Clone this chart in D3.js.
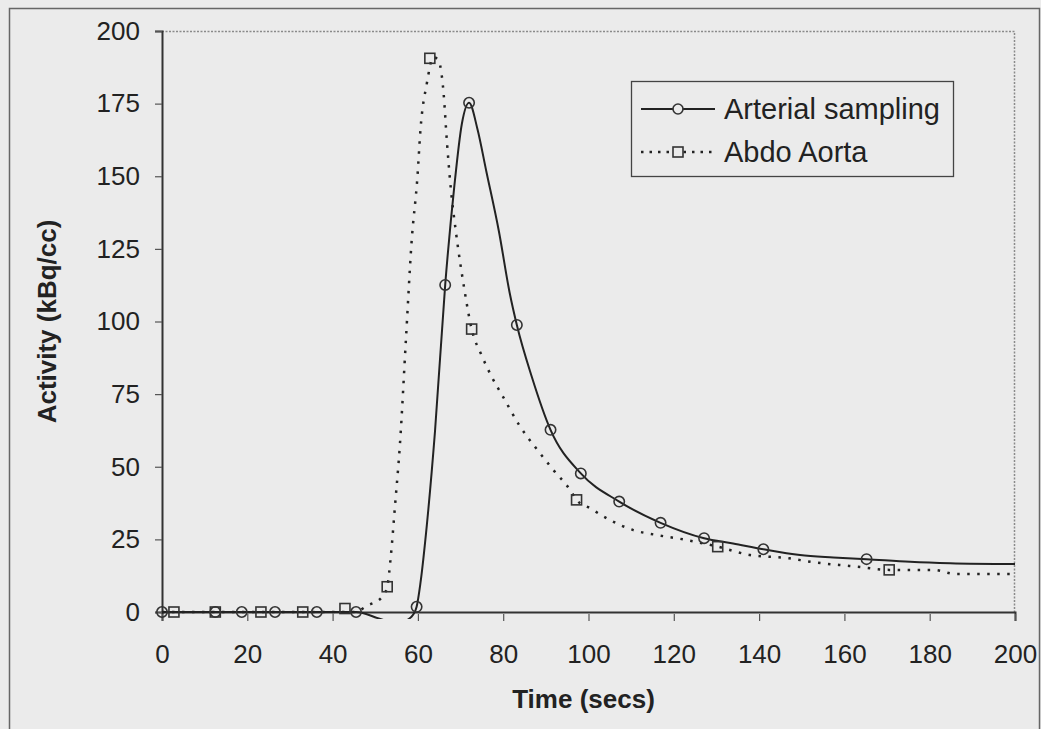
<!DOCTYPE html>
<html>
<head>
<meta charset="utf-8">
<script src="https://cdn.jsdelivr.net/npm/d3@7"></script>
<style>
  html, body { margin: 0; padding: 0; background: #ebebeb; }
  svg { display: block; font-family: "Liberation Sans", Arial, sans-serif; }
</style>
</head>
<body>
<script>
// sampled points (markers)
var arterialTime = [0, 12.5, 18.7, 26.5, 36.3, 45.5, 59.7, 66.4, 72.0, 83.2, 91.1, 98.2, 107.2, 116.9, 127.1, 141.0, 165.2];
var arterialAct  = [0, 0, 0, 0, 0, 0, 1.8, 112.6, 175.3, 98.8, 62.7, 47.7, 38.0, 30.7, 25.4, 21.6, 18.2];

var aortaTime = [2.8, 12.5, 23.2, 33.0, 42.9, 52.8, 62.8, 72.6, 97.2, 130.3, 170.5];
var aortaAct  = [0, 0, 0, 0, 1.2, 8.7, 190.6, 97.4, 38.6, 22.5, 14.5];

// smoothed curves
var arterialFitTime = [0, 40, 45.5, 51, 55, 58.5, 59.7, 60.6, 62.1, 64.0, 66.4, 68.5, 70.3, 72.0, 74.0, 76.0, 79.0, 81.5, 83.2, 86.7, 91.1, 98.2, 107.2, 116.9, 127.1, 133.9, 141.0, 149.6, 157.4, 165.2, 175.4, 184.8, 200];
var arterialFitAct  = [0, 0, 0, -2.3, -4, -1.6, 1.8, 10, 30, 62, 112.6, 146, 168, 175.3, 166, 152, 131, 110, 98.8, 81, 62.7, 47.7, 38.0, 30.7, 25.4, 23.6, 21.6, 19.6, 18.8, 18.2, 17.3, 16.8, 16.5];

var aortaFitTime = [0, 45, 48.4, 51.5, 52.8, 53.7, 54.6, 55.8, 57.2, 58.5, 59.9, 60.6, 62.1, 63.6, 64.8, 66.0, 66.8, 67.7, 68.9, 70.9, 72.6, 74.9, 77.3, 80.0, 83.9, 87.9, 91.7, 95.7, 97.2, 100.4, 105, 110.5, 116, 122.2, 130.3, 137.9, 147, 152, 163, 170.5, 181, 186, 200];
var aortaFitAct  = [0, 0, 2.4, 5, 8.7, 20, 36, 58, 94, 127, 150, 166, 182, 191, 190, 179, 162, 146, 131, 111, 97.4, 88.5, 81, 74, 64, 56, 49, 42, 38.6, 35.7, 31.7, 28.2, 26.5, 25, 22.5, 19.6, 18.5, 17.3, 15.6, 14.5, 14.5, 13.1, 13.1];

var xTicks = [0, 20, 40, 60, 80, 100, 120, 140, 160, 180, 200];
var yTicks = [0, 25, 50, 75, 100, 125, 150, 175, 200];

var seriesNames = ["Arterial sampling", "Abdo Aorta"];

var W = 1041, H = 729;
var margin = {top: 31, right: 26, bottom: 117, left: 162};
var width = W - margin.left - margin.right,
    height = H - margin.top - margin.bottom;

var zip = function(t, v) {
  return t.map(function(d, i) { return [d, v[i]]; });
};

var x = d3.scaleLinear().domain([0, 200]).range([0, width]);
var y = d3.scaleLinear().domain([0, 200]).range([height, 0]);

var svg = d3.select("body").append("svg")
    .attr("width", W)
    .attr("height", H);

// outer chart frame
svg.append("rect")
    .attr("x", 9.5).attr("y", 8.5)
    .attr("width", 1030).attr("height", 740)
    .attr("fill", "#ebebeb")
    .attr("stroke", "#666")
    .attr("stroke-width", 1.5);

var g = svg.append("g")
    .attr("transform", "translate(" + margin.left + "," + margin.top + ")");

g.append("clipPath")
    .attr("id", "plotclip")
  .append("rect")
    .attr("x", 0).attr("y", 0)
    .attr("width", width).attr("height", height + 7);

// plot area frame: dotted top and right
g.append("path")
    .attr("d", "M0,0.5H" + (width - 0.5) + "V" + height)
    .attr("fill", "none")
    .attr("stroke", "#8a8a8a")
    .attr("stroke-width", 1.5)
    .attr("stroke-dasharray", "2,1.5");

var xAxis = g.append("g")
    .attr("transform", "translate(0," + height + ")")
    .call(d3.axisBottom(x).tickValues(xTicks).tickSize(9).tickPadding(25));

var yAxis = g.append("g")
    .call(d3.axisLeft(y).tickValues(yTicks).tickSize(7).tickPadding(15));

[xAxis, yAxis].forEach(function(a) {
  a.select(".domain").attr("stroke", "#333").attr("stroke-width", 2);
  a.selectAll(".tick line").attr("stroke", "#555").attr("stroke-width", 1.2);
  a.selectAll(".tick text")
      .attr("fill", "#222")
      .style("font-size", "26px")
      .style("font-family", "Liberation Sans, Arial, sans-serif");
});
xAxis.selectAll(".tick line").attr("y1", 2);
xAxis.selectAll(".tick text").attr("dy", "0.71em").attr("y", 33);

var line = d3.line()
    .x(function(d) { return x(d[0]); })
    .y(function(d) { return y(d[1]); })
    .curve(d3.curveMonotoneX);

var curves = g.append("g").attr("clip-path", "url(#plotclip)");

curves.append("path")
    .datum(zip(aortaFitTime, aortaFitAct))
    .attr("d", line)
    .attr("fill", "none")
    .attr("stroke", "#222")
    .attr("stroke-width", 2.5)
    .attr("stroke-dasharray", "2.5,7.5");

curves.append("path")
    .datum(zip(arterialFitTime, arterialFitAct))
    .attr("d", line)
    .attr("fill", "none")
    .attr("stroke", "#222")
    .attr("stroke-width", 2);

// markers
g.append("g").selectAll("rect")
    .data(zip(aortaTime, aortaAct))
  .enter().append("rect")
    .attr("x", function(d) { return x(d[0]) - 5; })
    .attr("y", function(d) { return y(d[1]) - 5; })
    .attr("width", 10).attr("height", 10)
    .attr("fill", "none")
    .attr("stroke", "#333")
    .attr("stroke-width", 1.6);

g.append("g").selectAll("circle")
    .data(zip(arterialTime, arterialAct))
  .enter().append("circle")
    .attr("cx", function(d) { return x(d[0]); })
    .attr("cy", function(d) { return y(d[1]); })
    .attr("r", 5.2)
    .attr("fill", "none")
    .attr("stroke", "#333")
    .attr("stroke-width", 1.6);

// axis titles
svg.append("text")
    .attr("x", margin.left + width / 2 - 5)
    .attr("y", 708)
    .attr("text-anchor", "middle")
    .attr("fill", "#222")
    .style("font-size", "26px")
    .style("font-weight", "bold")
    .text("Time (secs)");

svg.append("text")
    .attr("transform", "translate(56," + (margin.top + height / 2) + ") rotate(-90)")
    .attr("text-anchor", "middle")
    .attr("fill", "#222")
    .style("font-size", "26px")
    .style("font-weight", "bold")
    .text("Activity (kBq/cc)");

// legend
var legend = svg.append("g")
    .attr("transform", "translate(631,81)");

legend.append("rect")
    .attr("x", 0.5).attr("y", 0.5)
    .attr("width", 322).attr("height", 95)
    .attr("fill", "#ebebeb")
    .attr("stroke", "#444")
    .attr("stroke-width", 1.3);

var rows = legend.selectAll("g.row")
    .data(seriesNames)
  .enter().append("g")
    .attr("class", "row")
    .attr("transform", function(d, i) { return "translate(0," + (28 + i * 43) + ")"; });

rows.append("line")
    .attr("x1", 10).attr("x2", 84)
    .attr("stroke", "#222")
    .attr("stroke-width", function(d, i) { return i === 0 ? 2 : 2.5; })
    .attr("stroke-dasharray", function(d, i) { return i === 0 ? null : "2.5,6"; });

rows.append(function(d, i) {
      return document.createElementNS("http://www.w3.org/2000/svg", i === 0 ? "circle" : "rect");
    })
    .each(function(d, i) {
      var s = d3.select(this);
      if (i === 0) s.attr("cx", 47).attr("cy", 0).attr("r", 5);
      else s.attr("x", 42).attr("y", -5).attr("width", 10).attr("height", 10);
    })
    .attr("fill", "#ebebeb")
    .attr("stroke", "#333")
    .attr("stroke-width", 1.6);

rows.append("text")
    .attr("x", 93)
    .attr("y", 0)
    .attr("dy", "0.36em")
    .attr("fill", "#222")
    .style("font-size", "29px")
    .text(function(d) { return d; });
</script>
</body>
</html>
